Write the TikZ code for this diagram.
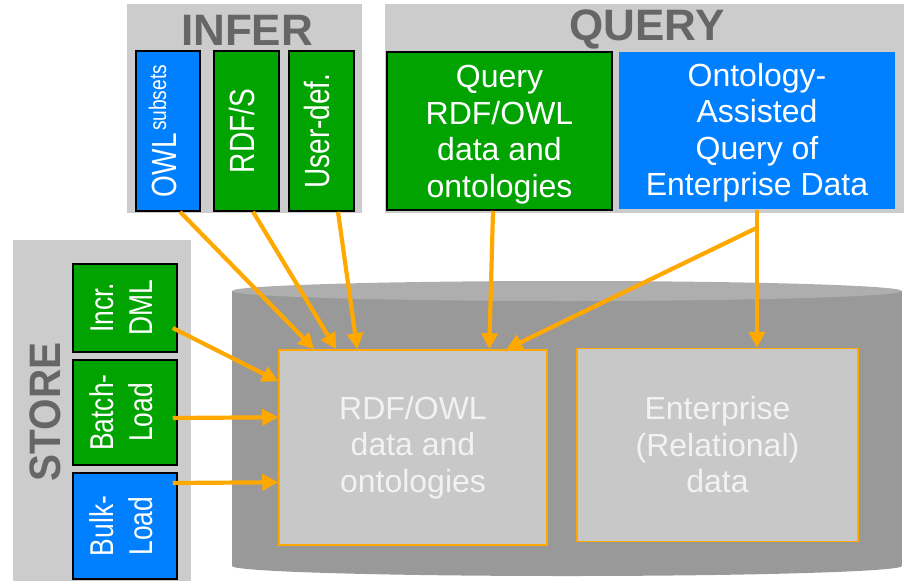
\documentclass[tikz,border=0pt]{standalone}
\usepackage{fontspec}
\setmainfont{Liberation Sans}
\usetikzlibrary{arrows.meta}

\definecolor{boxgreen}{HTML}{00A300}
\definecolor{boxblue}{HTML}{0080FF}
\definecolor{panelgray}{HTML}{CCCCCC}
\definecolor{titlegray}{HTML}{666666}
\definecolor{drumgray}{HTML}{999999}
\definecolor{drumtop}{HTML}{AEAEAE}
\definecolor{storegray}{HTML}{C8C8C8}
\definecolor{storetext}{HTML}{F2F2F2}
\definecolor{feedcolor}{HTML}{FFA800}

\newcommand\fs[2]{\fontsize{#1}{#2}\selectfont}
\newcommand\narrow[1]{\scalebox{0.8}[1]{#1}}
\newcommand\vlabel[1]{\rotatebox{90}{\narrow{\begin{tabular}{@{}c@{}}#1\end{tabular}}}}
\newcommand\lowered[2]{\raisebox{-#1}[\height][\depth]{\begin{tabular}{@{}c@{}}#2\end{tabular}}}

\begin{document}
\begin{tikzpicture}[x=1pt, y=-1pt,
        panel/.style={fill=panelgray, inner sep=0pt},
        title/.style={text=titlegray, font=\fs{44}{44}\bfseries},
        greenbox/.style={draw=black, line width=1.5pt, fill=boxgreen, text=white, inner sep=0pt, align=center},
        bluebox/.style={greenbox, fill=boxblue},
        vbox/.style={greenbox, font=\fs{35}{40}},
        sbox/.style={greenbox, font=\fs{33}{39}},
        qbox/.style={greenbox, font=\fs{32}{36.5}},
        storebox/.style={draw=feedcolor, line width=1.5pt, fill=storegray, text=storetext, inner sep=0pt, align=center, font=\fs{32}{36.5}},
        feed/.style={draw=feedcolor, line width=4.2pt, -{Triangle[length=16pt,width=16pt]}}]
            \useasboundingbox (0,0) rectangle (904,581);

            \node[panel, minimum width=235, minimum height=209] (inferpanel) at (244.5,108.5) {};
            \node[panel, minimum width=519, minimum height=209] (querypanel) at (644.5,108.5) {};
            \node[panel, minimum width=178, minimum height=341] (storepanel) at (102,410.5) {};

            \node[title] (infer) at (247,30) {INFER};
            \node[title] (query) at (647,29) {QUERY};
            \node[title] (store) at (45,412) {\rotatebox{90}{\scalebox{0.92}[1]{STORE}}};

            \node[vbox, fill=boxblue, minimum width=64, minimum height=160] (owl) at (168,131)
                {\vlabel{OWL\hspace{3pt}\raisebox{10pt}{\fs{24}{24}subsets}}};
            \node[vbox, minimum width=65, minimum height=160] (rdfs) at (246.5,131) {\vlabel{RDF/S}};
            \node[vbox, minimum width=65, minimum height=160] (userdef) at (321.5,131) {\vlabel{User-def.}};

            \node[qbox, minimum width=225, minimum height=158] (queryrdf) at (499.5,131)
                {\lowered{4pt}{Query\\RDF/OWL\\data and\\ontologies}};
            \node[qbox, draw=none, fill=boxblue, minimum width=276, minimum height=157] (ontoquery) at (757,130.5)
                {\lowered{3pt}{Ontology-\\Assisted\\Query of\\Enterprise Data}};

            \node[sbox, minimum width=104, minimum height=88] (incr) at (125,308) {\vlabel{Incr.\\DML}};
            \node[sbox, minimum width=104, minimum height=105] (batch) at (125,412.5) {\vlabel{Batch-\\Load}};
            \node[sbox, fill=boxblue, minimum width=104, minimum height=106] (bulk) at (125,526) {\vlabel{Bulk-\\Load}};

            \fill[drumgray] (232,291) rectangle (902,566);
            \fill[drumgray] (567,566) ellipse [x radius=335, y radius=10];
            \fill[drumtop] (567,291) ellipse [x radius=335, y radius=10];

            \node[storebox, minimum width=268, minimum height=195] (rdf) at (413,447.5)
                {RDF/OWL\\data and\\ontologies};
            \node[storebox, minimum width=281, minimum height=193] (enterprise) at (717.5,445)
                {Enterprise\\(Relational)\\data};

            \draw[feed] ([xshift=12pt]owl.south) -- ([xshift=36pt]rdf.north west);
            \draw[feed] ([xshift=6.5pt]rdfs.south) -- ([xshift=58pt]rdf.north west);
            \draw[feed] ([xshift=16.5pt]userdef.south) -- ([xshift=79pt]rdf.north west);
            \draw[feed] ([xshift=-6.5pt]queryrdf.south) -- ([xshift=211pt]rdf.north west);

            \coordinate (split) at ([yshift=-18pt]ontoquery.south);
            \draw[feed] (ontoquery.south) -- (ontoquery.south |- enterprise.north);
            \draw[feed] (split) -- ([xshift=228pt]rdf.north west);

            \draw[feed] ([xshift=-5pt,yshift=-20pt]incr.east) -- ([yshift=-32pt]rdf.north west);
            \draw[feed] ([xshift=-5pt,yshift=-5.5pt]batch.east) -- ([yshift=-68pt]rdf.north west);
            \draw[feed] ([xshift=-5pt,yshift=43pt]bulk.east) -- ([yshift=-133pt]rdf.north west);
        \end{tikzpicture}
\end{document}
